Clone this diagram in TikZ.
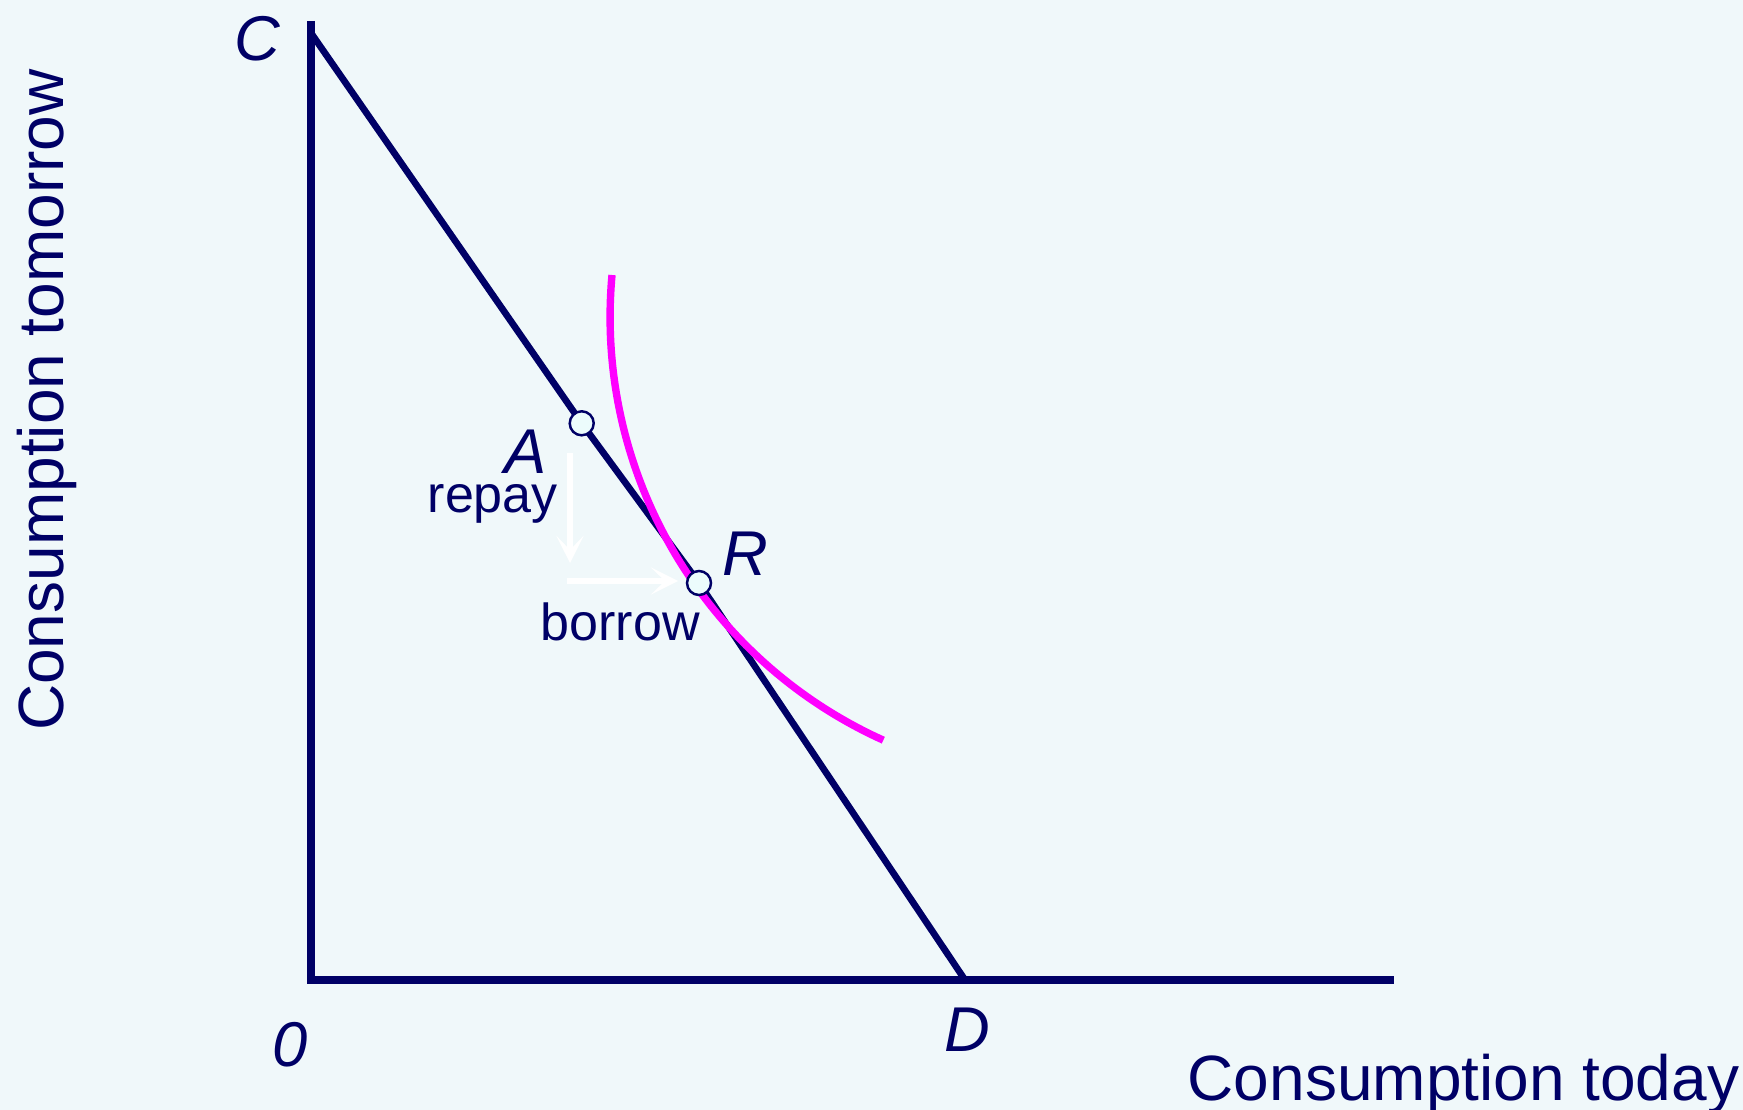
\documentclass[tikz,border=0pt]{standalone}
\usepackage{fontspec}
\setmainfont{Liberation Sans}
\usetikzlibrary{arrows.meta, positioning}
\definecolor{navy}{RGB}{0,0,102}
\definecolor{bgcol}{RGB}{240,248,250}
\definecolor{ptfill}{RGB}{236,252,252}
\definecolor{icol}{RGB}{255,0,255}
\tikzset{
  axis/.style = {line width=2.3pt, navy, line join=miter},
  budget/.style = {line width=1.9pt, navy},
  icurve/.style = {line width=2.1pt, icol},
  dot/.style = {
    circle, draw=navy, fill=ptfill,
    line width=0.7pt, minimum size=0.24cm, inner sep=0pt
  },
  lbl/.style = {inner sep=0pt, text=navy, font=\fontsize{18}{20}\selectfont\itshape},
  ttl/.style = {inner sep=0pt, text=navy, font=\fontsize{18.2}{22}\selectfont},
  note/.style = {inner sep=0pt, text=navy, font=\fontsize{14.8}{17}\selectfont},
  mv/.style = {-{Stealth[length=7.7pt, width=7.7pt, inset=4pt]}, line width=1.7pt, white}
}

\begin{document}
\begin{tikzpicture}[x=0.01cm, y=-0.01cm]

\fill[bgcol] (0,0) rectangle (1743,1110);
\useasboundingbox (0,0) rectangle (1743,1110);

% axes
\coordinate (ytop) at (311,21);
\coordinate (O) at (311,980);
\coordinate (xend) at (1394,980);
\draw[axis] (ytop) -- (O) -- (xend);

% budget line
\coordinate (C) at (311,33);
\coordinate (pA) at (581.7,423.3);
\coordinate (pR) at (699,583);
\coordinate (D) at (965,980);
\draw[budget] (C) -- (pA) -- (pR) -- (D);

% indifference curve
\coordinate (i0) at (612,275);
\draw[icurve] (i0) arc[start angle=174.8, end angle=245.7, radius=4.64cm];

\node[dot] (A) at (pA) {};
\node[dot] (R) at (pR) {};

% moves
\coordinate (r0) at (570,453);
\coordinate (r1) at (570,563);
\coordinate (b0) at (567,581);
\coordinate (b1) at (678,581);
\draw[mv] (r0) -- (r1);
\draw[mv] (b0) -- (b1);

% labels
\node[lbl, anchor=base] (lC) at (257,61) {C};
\node[lbl, anchor=base] (lA) at (526,474) {A};
\node[lbl, anchor=base] (lR) at (745,575) {R};
\node[lbl, anchor=base] (lO) at (290,1066) {0};
\node[lbl, anchor=base] (lD) at (967,1051) {D};
\node[note, anchor=base west] (repay) at (427,513) {repay};
\node[note, anchor=base west] (borrow) at (540,640) {borrow};

\node[ttl, anchor=base west] (xlab) at (1187,1100) {Consumption today};
\node[ttl, anchor=base, rotate=90] (ylab) at (63,400) {Consumption tomorrow};

\end{tikzpicture}
\end{document}
